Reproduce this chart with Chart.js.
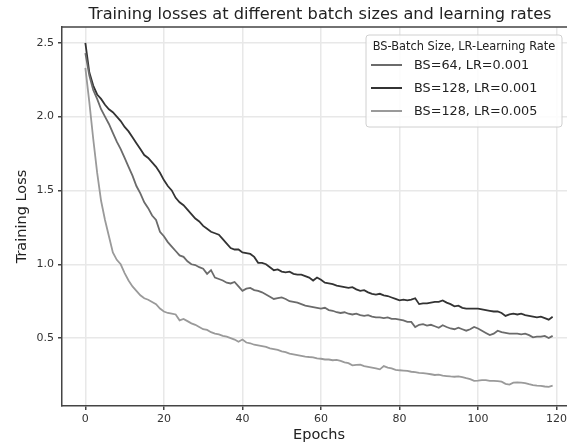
<!DOCTYPE html>
<html>
<head>
<meta charset="utf-8">
<script src="https://cdn.jsdelivr.net/npm/chart.js@4"></script>
<style>
  html, body { margin: 0; padding: 0; background: #fff; overflow: hidden; }
  #wrap { width: 600px; height: 448px; }
</style>
</head>
<body>
<div id="wrap"><canvas id="chart" width="600" height="448"></canvas></div>
<script>
// epochs 0..119
const epochs = Array.from({ length: 120 }, (_, i) => i);

const xTicks = [0, 20, 40, 60, 80, 100, 120];
const yTicks = [0.5, 1.0, 1.5, 2.0, 2.5];

const seriesNames = ['BS=64, LR=0.001', 'BS=128, LR=0.001', 'BS=128, LR=0.005'];
const seriesColors = ['#6b6b6b', '#333333', '#9a9a9a'];

const bs64lr001 = [
  2.43, 2.28, 2.18, 2.12, 2.05, 2.00, 1.95, 1.89, 1.83, 1.78,
  1.72, 1.66, 1.60, 1.53, 1.48, 1.42, 1.38, 1.33, 1.30, 1.22,
  1.19, 1.15, 1.12, 1.09, 1.06, 1.05, 1.02, 1.00, 0.995, 0.98,
  0.97, 0.935, 0.96, 0.91, 0.90, 0.89, 0.875, 0.87, 0.88, 0.85,
  0.82, 0.835, 0.84, 0.825, 0.82, 0.81, 0.795, 0.78, 0.765, 0.77,
  0.775, 0.765, 0.75, 0.745, 0.74, 0.73, 0.72, 0.715, 0.71, 0.705,
  0.70, 0.705, 0.69, 0.685, 0.675, 0.67, 0.675, 0.665, 0.66, 0.665,
  0.655, 0.65, 0.655, 0.645, 0.64, 0.64, 0.635, 0.64, 0.63, 0.63,
  0.625, 0.62, 0.61, 0.61, 0.575, 0.59, 0.595, 0.585, 0.59, 0.58,
  0.57, 0.587, 0.575, 0.565, 0.56, 0.57, 0.56, 0.55, 0.56, 0.575,
  0.565, 0.55, 0.535, 0.52, 0.53, 0.55, 0.54, 0.535, 0.53, 0.53,
  0.53, 0.525, 0.53, 0.52, 0.505, 0.51, 0.51, 0.515, 0.50, 0.515
];

const bs128lr001 = [
  2.50, 2.30, 2.21, 2.15, 2.12, 2.08, 2.05, 2.03, 2.00, 1.97,
  1.93, 1.90, 1.86, 1.82, 1.78, 1.74, 1.72, 1.69, 1.66, 1.62,
  1.57, 1.53, 1.50, 1.45, 1.42, 1.40, 1.37, 1.34, 1.31, 1.29,
  1.26, 1.24, 1.22, 1.21, 1.20, 1.17, 1.14, 1.11, 1.10, 1.10,
  1.08, 1.075, 1.07, 1.05, 1.01, 1.01, 1.00, 0.98, 0.96, 0.965,
  0.95, 0.945, 0.95, 0.935, 0.93, 0.93, 0.92, 0.91, 0.89, 0.91,
  0.895, 0.875, 0.87, 0.865, 0.855, 0.85, 0.845, 0.84, 0.845, 0.83,
  0.82, 0.825, 0.81, 0.80, 0.795, 0.80, 0.79, 0.785, 0.775, 0.765,
  0.755, 0.76, 0.755, 0.76, 0.77, 0.73, 0.735, 0.735, 0.74, 0.745,
  0.745, 0.755, 0.74, 0.73, 0.715, 0.72, 0.705, 0.70, 0.70, 0.70,
  0.70, 0.695, 0.69, 0.685, 0.68, 0.68, 0.67, 0.65, 0.66, 0.665,
  0.66, 0.665, 0.655, 0.65, 0.645, 0.64, 0.645, 0.635, 0.625, 0.645
];

const bs128lr005 = [
  2.33, 2.10, 1.85, 1.62, 1.43, 1.30, 1.19, 1.08, 1.03, 1.00,
  0.94, 0.89, 0.85, 0.82, 0.79, 0.77, 0.76, 0.745, 0.73, 0.70,
  0.68, 0.67, 0.665, 0.66, 0.62, 0.63, 0.615, 0.60, 0.59, 0.575,
  0.56, 0.555, 0.54, 0.53, 0.525, 0.515, 0.51, 0.50, 0.49, 0.475,
  0.49, 0.47, 0.465, 0.455, 0.45, 0.445, 0.44, 0.43, 0.425, 0.42,
  0.41, 0.405, 0.395, 0.39, 0.385, 0.38, 0.375, 0.372, 0.37, 0.362,
  0.36, 0.355, 0.355, 0.35, 0.352, 0.345, 0.335, 0.33, 0.315, 0.318,
  0.32, 0.31, 0.305, 0.30, 0.295, 0.288, 0.31, 0.30, 0.295, 0.285,
  0.282, 0.28, 0.278, 0.272, 0.27, 0.265, 0.263, 0.26, 0.255, 0.25,
  0.252, 0.245, 0.243, 0.24, 0.238, 0.24, 0.235, 0.228, 0.222, 0.21,
  0.212, 0.215, 0.215, 0.21, 0.21, 0.208, 0.205, 0.19, 0.185, 0.198,
  0.20, 0.198, 0.195, 0.188, 0.182, 0.178, 0.176, 0.172, 0.17, 0.178
];

const seriesValues = [bs64lr001, bs128lr001, bs128lr005];

const titleText = 'Training losses at different batch sizes and learning rates';
const legendTitle = 'BS-Batch Size, LR-Learning Rate';
const FONT = "'DejaVu Sans', sans-serif";

// matplotlib-like title, top/right spines and in-axes legend
const decorPlugin = {
  id: 'decor',
  afterDraw(chart) {
    const ctx = chart.ctx;
    const a = chart.chartArea;
    ctx.save();
    ctx.strokeStyle = '#444';
    ctx.lineWidth = 1.5;
    ctx.beginPath();
    ctx.moveTo(a.left - 0.75, a.top);
    ctx.lineTo(a.right, a.top);
    ctx.lineTo(a.right, a.bottom);
    ctx.stroke();

    ctx.fillStyle = '#222';
    ctx.font = '16.2px ' + FONT;
    ctx.textAlign = 'center';
    ctx.textBaseline = 'middle';
    ctx.fillText(titleText, 320, 15);

    // legend box
    const bx = 366, by = 35, bw = 196, bh = 92, r = 3;
    ctx.beginPath();
    ctx.moveTo(bx + r, by);
    ctx.arcTo(bx + bw, by, bx + bw, by + bh, r);
    ctx.arcTo(bx + bw, by + bh, bx, by + bh, r);
    ctx.arcTo(bx, by + bh, bx, by, r);
    ctx.arcTo(bx, by, bx + bw, by, r);
    ctx.closePath();
    ctx.fillStyle = 'rgba(255,255,255,0.85)';
    ctx.fill();
    ctx.strokeStyle = '#d0d0d0';
    ctx.lineWidth = 1;
    ctx.stroke();

    ctx.fillStyle = '#222';
    ctx.font = '11.4px ' + FONT;
    ctx.fillText(legendTitle, bx + bw / 2, 47);

    ctx.textAlign = 'left';
    ctx.font = '12.8px ' + FONT;
    const rows = [65, 88, 111];
    chart.data.datasets.forEach((ds, i) => {
      ctx.strokeStyle = ds.borderColor;
      ctx.lineWidth = 2;
      ctx.beginPath();
      ctx.moveTo(371, rows[i]);
      ctx.lineTo(402, rows[i]);
      ctx.stroke();
      ctx.fillStyle = '#222';
      ctx.fillText(ds.label, 414, rows[i] + 1);
    });
    ctx.restore();
  }
};

new Chart(document.getElementById('chart').getContext('2d'), {
  type: 'line',
  data: {
    labels: epochs,
    datasets: seriesNames.map((name, i) => ({
      label: name,
      data: seriesValues[i].map((v, j) => ({ x: epochs[j], y: v })),
      borderColor: seriesColors[i],
      borderWidth: 1.8,
      pointRadius: 0,
      tension: 0,
      fill: false
    }))
  },
  options: {
    responsive: false,
    animation: false,
    layout: { padding: { left: 0, right: 24, top: 27, bottom: 0 } },
    plugins: {
      legend: { display: false },
      title: { display: false },
      tooltip: { enabled: false }
    },
    scales: {
      x: {
        type: 'linear',
        min: -5.95,
        max: 124.95,
        afterBuildTicks: (scale) => { scale.ticks = xTicks.map(v => ({ value: v })); },
        afterFit: (scale) => { scale.height = 42; },
        ticks: { color: '#333', font: { family: FONT, size: 11 }, padding: 3, maxRotation: 0 },
        grid: { color: '#e8e8e8', lineWidth: 1.5, tickColor: '#444', tickLength: 4 },
        border: { display: true, color: '#444', width: 1.5 },
        title: { display: true, text: 'Epochs', color: '#222', font: { family: FONT, size: 14.5 }, padding: { top: 3 } }
      },
      y: {
        type: 'linear',
        min: 0.04,
        max: 2.607,
        afterBuildTicks: (scale) => { scale.ticks = yTicks.map(v => ({ value: v })); },
        afterFit: (scale) => { scale.width = 62; },
        ticks: { color: '#333', font: { family: FONT, size: 11 }, padding: 4, callback: (v) => v.toFixed(1) },
        grid: { color: '#e8e8e8', lineWidth: 1.5, tickColor: '#444', tickLength: 4 },
        border: { display: true, color: '#444', width: 1.5 },
        title: { display: true, text: 'Training Loss', color: '#222', font: { family: FONT, size: 14.5 }, padding: { top: 14, bottom: 0 } }
      }
    }
  },
  plugins: [decorPlugin]
});
</script>
</body>
</html>
